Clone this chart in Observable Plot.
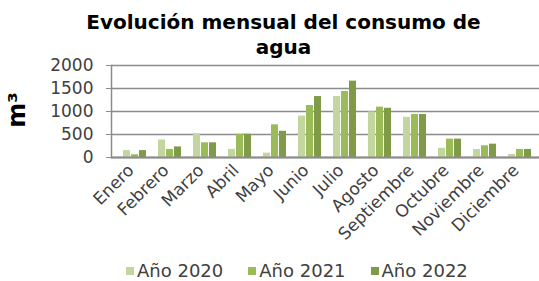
<!DOCTYPE html>
<html>
<head>
<meta charset="utf-8">
<script src="https://cdn.jsdelivr.net/npm/d3@7"></script>
<script src="https://cdn.jsdelivr.net/npm/@observablehq/plot@0.6"></script>
<style>
  html, body { margin: 0; padding: 0; background: #fff; }
  #wrap { position: relative; width: 539px; height: 281px; overflow: hidden; font-family: "DejaVu Sans", sans-serif; }
  #title { position: absolute; left: 28px; top: 10px; width: 511px; text-align: center; font-size: 20px; line-height: 25px; font-weight: bold; color: #000; }
  #chart { position: absolute; left: 0; top: 56px; }
  #ylabel { position: absolute; left: 17px; top: 110px; transform: translate(-50%, -50%) rotate(-90deg); font-size: 24px; font-weight: bold; color: #000; white-space: nowrap; }
  #legend { position: absolute; left: 126px; top: 261px; display: flex; gap: 25px; font-size: 18px; line-height: 20px; color: #404040; }
  #legend .item { display: flex; align-items: center; gap: 3px; }
  #legend .sw { width: 8px; height: 8px; display: inline-block; }
</style>
</head>
<body>
<div id="wrap">
  <div id="title">Evolución mensual del consumo de<br>agua</div>
  <div id="ylabel">m³</div>
  <div id="chart"></div>
  <div id="legend"></div>
</div>
<script>
const months = ["Enero","Febrero","Marzo","Abril","Mayo","Junio","Julio","Agosto","Septiembre","Octubre","Noviembre","Diciembre"];
const years = ["Año 2020","Año 2021","Año 2022"];
const v2020 = [150,380,515,175,95,900,1325,990,875,200,175,65];
const v2021 = [60,175,320,505,710,1130,1435,1095,935,400,255,175];
const v2022 = [150,230,320,505,570,1325,1660,1070,935,400,290,175];
const colors = ["#c4d69f","#9bbb59","#7f9b48"];
const yTicks = [0,500,1000,1500,2000];

const series = [v2020, v2021, v2022];
const rows = [];
series.forEach((vals, s) => vals.forEach((v, i) => rows.push({month: months[i], year: years[s], value: v})));

const offsets = [-8, 0, 8];
const barMarks = years.map((yr, s) => Plot.barY(rows.filter(d => d.year === yr), {
  x: "month", y: "value", fill: colors[s], insetLeft: 14, insetRight: 14, dx: offsets[s]
}));

const chart = Plot.plot({
  width: 539,
  height: 194,
  marginTop: 9,
  marginLeft: 111,
  marginRight: -3,
  marginBottom: 93,
  style: {fontFamily: "DejaVu Sans, sans-serif", color: "#404040", background: "transparent"},
  x: {domain: months, padding: 0},
  y: {domain: [0, 2000]},
  marks: [
    Plot.gridY(yTicks, {stroke: "#8c8c8c", strokeOpacity: 1, strokeWidth: 1.5}),
    ...barMarks,
    Plot.ruleY([0], {stroke: "#8c8c8c", strokeWidth: 2}),
    Plot.frame({anchor: "left", stroke: "#8c8c8c", strokeWidth: 1.5}),
    Plot.axisY({ticks: yTicks, tickFormat: d => String(d), tickSize: 5, tickPadding: 13, fontSize: 17, label: null, stroke: "#8c8c8c"}),
    Plot.axisX({tickRotate: -45, tickSize: 0, tickPadding: 10, dx: -4, fontSize: 17, label: null})
  ]
});
document.getElementById("chart").appendChild(chart);

const legend = document.getElementById("legend");
years.forEach((yr, s) => {
  const item = document.createElement("div");
  item.className = "item";
  const sw = document.createElement("span");
  sw.className = "sw";
  sw.style.background = colors[s];
  const t = document.createElement("span");
  t.textContent = yr;
  item.appendChild(sw);
  item.appendChild(t);
  legend.appendChild(item);
});
</script>
</body>
</html>
